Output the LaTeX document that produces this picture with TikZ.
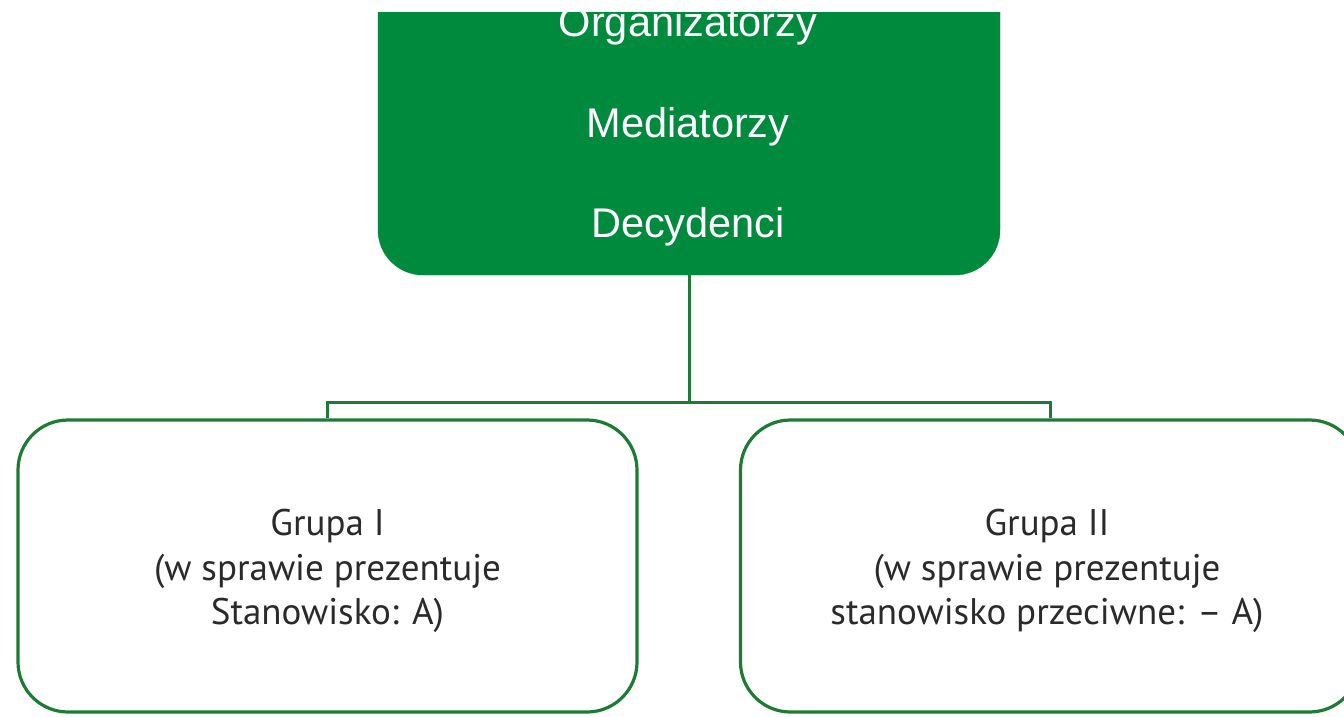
\documentclass[tikz,border=0pt]{standalone}
\usepackage{fontspec}
\setmainfont{Liberation Sans}
\newfontfamily\grpfont{PT Sans}
\definecolor{topgreen}{HTML}{008A3E}
\definecolor{linegreen}{HTML}{1E7B33}
\definecolor{txtgray}{HTML}{2A2A2A}
\tikzset{
  topbox/.style={draw=topgreen, fill=topgreen, rounded corners=45pt, minimum width=622pt, minimum height=315pt, inner sep=0pt},
  grpbox/.style={draw=linegreen, line width=3.2pt, fill=white, rounded corners=50pt, minimum width=619pt, minimum height=292pt, inner sep=0pt},
  conn/.style={draw=linegreen, line width=3pt},
  toptxt/.style={text=white, font=\fontsize{41.5}{48}\selectfont, inner sep=0pt},
  grptxt/.style={text=txtgray, font=\grpfont\fontsize{37}{44.5}\selectfont, align=center, inner sep=0pt}
}
\begin{document}
\begin{tikzpicture}[x=1pt,y=-1pt]
\useasboundingbox (0,0) rectangle (1344,716);
\clip (0,0) rectangle (1344,716);
\fill[white] (0,0) rectangle (1344,716);
\node[topbox] (top) at (689,117.5) {};
\node[toptxt] (t1) at (688,26) {Organizatorzy};
\node[toptxt] (t2) at (688,127) {Mediatorzy};
\node[toptxt] (t3) at (688,227) {Decydenci};
\fill[white] (0,0) rectangle (1344,12);
\node[grpbox] (g1) at (327.5,566) {};
\node[grpbox] (g2) at (1050,566) {};
\node[grptxt] (l1) at (327.5,571) {Grupa I\\(w sprawie prezentuje\\Stanowisko: A)};
\node[grptxt] (l2) at (1047,571) {Grupa II\\(w sprawie prezentuje\\stanowisko przeciwne: – A)};
\path[conn] (top.south) -- ++(0,127) coordinate (j);
\path[conn] (g1.north) |- (j) -| (g2.north);
\end{tikzpicture}
\end{document}
